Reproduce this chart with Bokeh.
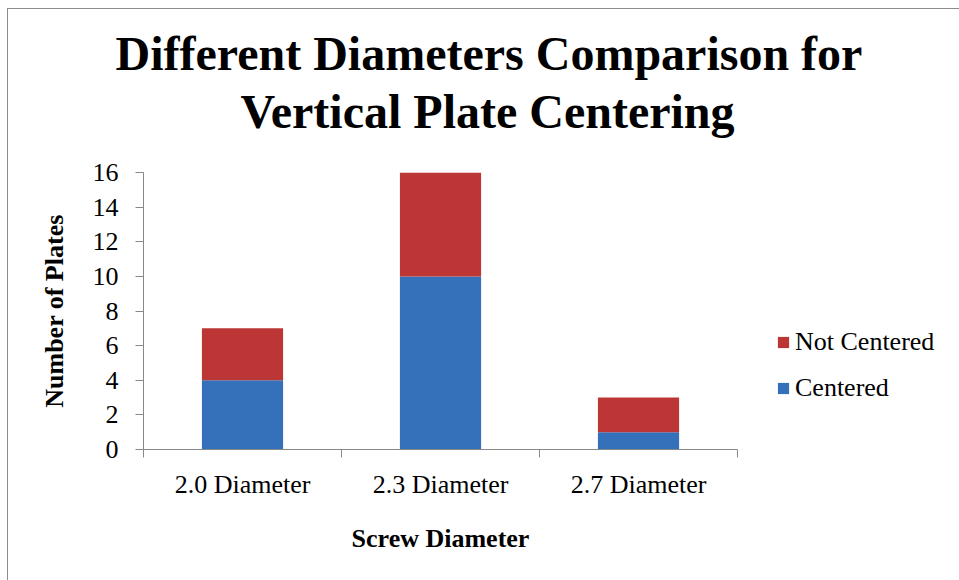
from bokeh.plotting import figure
from bokeh.models import FixedTicker, Legend, LegendItem, Title, ColumnDataSource
from bokeh.embed import file_html
from bokeh.resources import INLINE

categories = ["2.0 Diameter", "2.3 Diameter", "2.7 Diameter"]
centered = [4, 10, 1]
not_centered = [3, 6, 2]
series_names = ["Centered", "Not Centered"]
y_ticks = [0, 2, 4, 6, 8, 10, 12, 14, 16]
title_lines = ["Different Diameters Comparison for", "Vertical Plate Centering"]

BLUE = "#3570bb"
RED = "#bb3634"
AXIS = "#888888"
FONT = "Liberation Serif"

x = [i + 0.5 for i in range(len(categories))]
src = ColumnDataSource(dict(x=x, centered=centered, not_centered=not_centered))

p = figure(frame_width=594, frame_height=277, x_range=(0, len(categories)), y_range=(0, 16),
           output_backend="svg", toolbar_location=None, title=None,
           min_border_left=135, min_border_right=214, min_border_top=163,
           min_border_bottom=131)
p.outline_line_color = None
p.xgrid.visible = False
p.ygrid.visible = False
p.styles = {"margin-left": "7px", "margin-top": "8px",
            "border-left": "1px solid #8c8c8c", "border-top": "1px solid #8c8c8c"}

renderers = p.vbar_stack(["centered", "not_centered"], x="x", width=0.41,
                         color=[BLUE, RED], line_color=None, source=src)

# Titles (two lines) with a spacer between the frame and the second line
spacer = Title(text=" ", text_font_size="1px", standoff=30)
t2 = Title(text=title_lines[1], align="left", offset=97, text_font=FONT, text_font_size="48px",
           text_font_style="bold", text_color="black", standoff=3)
t1 = Title(text=title_lines[0], align="left", offset=-28, text_font=FONT, text_font_size="48px",
           text_font_style="bold", text_color="black", standoff=3)
p.add_layout(spacer, "above")
p.add_layout(t2, "above")
p.add_layout(t1, "above")

# X axis
xa = p.xaxis[0]
xa.ticker = FixedTicker(ticks=x, minor_ticks=list(range(len(categories) + 1)))
xa.major_label_overrides = {xv: c for xv, c in zip(x, categories)}
xa.major_tick_line_color = None
xa.major_tick_out = 8
xa.major_tick_in = 0
xa.minor_tick_line_color = AXIS
xa.minor_tick_out = 8
xa.minor_tick_in = 0
xa.axis_line_color = AXIS
xa.major_label_text_font = FONT
xa.major_label_text_font_size = "26px"
xa.major_label_text_color = "black"
xa.major_label_standoff = 12
xa.axis_label = "Screw Diameter"
xa.axis_label_text_font = FONT
xa.axis_label_text_font_size = "26px"
xa.axis_label_text_font_style = "bold"
xa.axis_label_text_color = "black"
xa.axis_label_standoff = 22

# Y axis
ya = p.yaxis[0]
ya.ticker = FixedTicker(ticks=y_ticks, minor_ticks=[])
ya.major_tick_line_color = AXIS
ya.major_tick_out = 8
ya.major_tick_in = 0
ya.minor_tick_line_color = None
ya.axis_line_color = AXIS
ya.major_label_text_font = FONT
ya.major_label_text_font_size = "26px"
ya.major_label_text_color = "black"
ya.major_label_standoff = 17
ya.axis_label = "Number of Plates"
ya.axis_label_text_font = FONT
ya.axis_label_text_font_size = "26px"
ya.axis_label_text_font_style = "bold"
ya.axis_label_text_color = "black"
ya.axis_label_standoff = 21

legend = Legend(items=[LegendItem(label=series_names[1], renderers=[renderers[1]]),
                       LegendItem(label=series_names[0], renderers=[renderers[0]])],
                location=(39, 46), orientation="vertical",
                glyph_width=14, glyph_height=14, label_height=30, label_standoff=5,
                spacing=16, padding=0, margin=0, border_line_color=None,
                background_fill_alpha=0,
                label_text_font=FONT, label_text_font_size="26px", label_text_color="black")
p.add_layout(legend, "right")

open("out.html", "w").write(file_html(p, INLINE))
